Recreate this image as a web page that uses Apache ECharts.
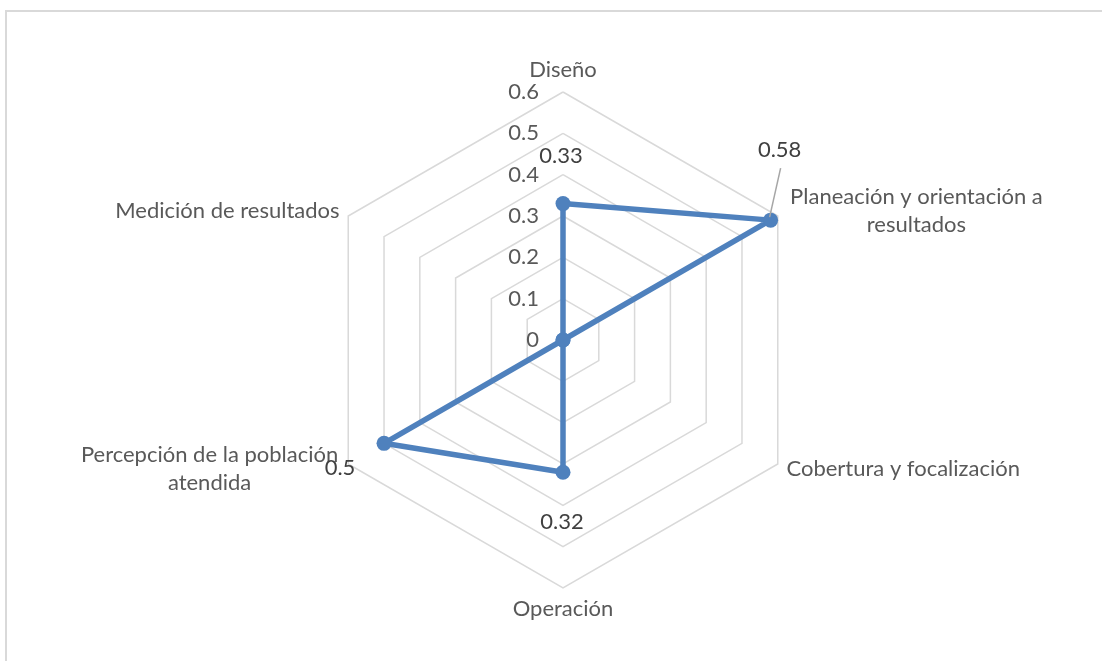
<!DOCTYPE html>
<html>
<head>
<meta charset="utf-8">
<script src="https://cdn.jsdelivr.net/npm/echarts@6/dist/echarts.min.js"></script>
<style>
html,body{margin:0;padding:0;background:#fff;}
#chart{width:1102px;height:661px;}
</style>
</head>
<body>
<div id="chart"></div>
<script>
// Categories listed clockwise from the top, as in the reference
const categories = ['Diseño', 'Planeación y orientación a\nresultados', 'Cobertura y focalización', 'Operación', 'Percepción de la población\natendida', 'Medición de resultados'];
const values = [0.33, 0.58, 0, 0.32, 0.5, 0];
const axisMax = 0.6;
const axisSplits = 6;
// which values carry a data label
const labeledIdx = [0, 1, 3, 4];

const FONT = 'Lato';
const chart = echarts.init(document.getElementById('chart'), null, {renderer: 'canvas'});

// ECharts radar runs counterclockwise, so reorder (keep first at top)
const order = [0, 5, 4, 3, 2, 1];
const indCats = order.map(i => categories[i]);
const indVals = order.map(i => values[i]);

const indicator = indCats.map((n, k) => {
  const o = {name: n, min: 0, max: axisMax};
  if (k === 0) o.axisLabel = {show: true};
  return o;
});

const labelOffsets = {0: [-2, -48], 1: [9, -70], 3: [-1, 50], 4: [-44, 25]};

const labelSeries = labeledIdx.map(ci => {
  const dim = order.indexOf(ci);
  return {
    type: 'radar',
    symbol: 'circle',
    symbolSize: 2,
    silent: true,
    itemStyle: {color: 'transparent', borderWidth: 0},
    lineStyle: {color: 'transparent', width: 0},
    z: 5,
    label: {
      show: true,
      position: 'inside',
      offset: labelOffsets[ci],
      color: '#404040',
      fontFamily: FONT,
      fontSize: 22,
      formatter: p => (p.dimensionIndex === dim ? String(p.value) : '')
    },
    data: [{value: indVals}]
  };
});

const option = {
  backgroundColor: '#fff',
  animation: false,
  radar: {
    center: [563, 340],
    radius: 248,
    startAngle: 90,
    splitNumber: axisSplits,
    shape: 'polygon',
    nameGap: 10,
    indicator: indicator,
    axisName: {
      color: '#595959',
      fontFamily: FONT,
      fontSize: 22,
      formatter: function (name) {
        if (name.indexOf('\n') < 0) return name;
        return name.split('\n').map(s => '{c|' + s + '}').join('\n');
      },
      rich: {c: {width: 260, align: 'center', color: '#595959', fontFamily: FONT, fontSize: 22, lineHeight: 28}}
    },
    splitLine: {lineStyle: {color: '#D9D9D9', width: 1.5}},
    splitArea: {show: false},
    axisLine: {show: false},
    axisTick: {show: false},
    axisLabel: {
      show: false, margin: 24, color: '#595959', fontFamily: FONT, fontSize: 22,
      formatter: v => (Math.abs(v) < 1e-9 ? '0' : (+v).toFixed(1))
    }
  },
  series: [{
    type: 'radar',
    symbol: 'circle',
    symbolSize: 15,
    z: 3,
    lineStyle: {color: '#4F81BD', width: 5.5},
    itemStyle: {color: '#4F81BD'},
    label: {show: false},
    data: [{value: indVals}]
  }].concat(labelSeries),
  graphic: [{
    type: 'rect',
    shape: {x: 6, y: 11, width: 1200, height: 800},
    style: {fill: 'none', stroke: '#D9D9D9', lineWidth: 2},
    silent: true
  }]
};
chart.setOption(option);

// leader line for the 0.58 label, positioned via the radar coordinate system
try {
  const cs = chart.getModel().getComponent('radar').coordinateSystem;
  const dim = order.indexOf(1);
  const p = cs.dataToPoint(indVals[dim], dim);
  chart.setOption({graphic: [{
    type: 'rect',
    shape: {x: 6, y: 11, width: 1200, height: 800},
    style: {fill: 'none', stroke: '#D9D9D9', lineWidth: 2},
    silent: true
  }, {
    type: 'line',
    shape: {x1: p[0] - 1, y1: p[1] - 3, x2: p[0] + 10, y2: p[1] - 52},
    style: {stroke: '#A6A6A6', lineWidth: 1.5},
    z: 10,
    silent: true
  }]});
} catch (e) { console.error(e); }
</script>
</body>
</html>
